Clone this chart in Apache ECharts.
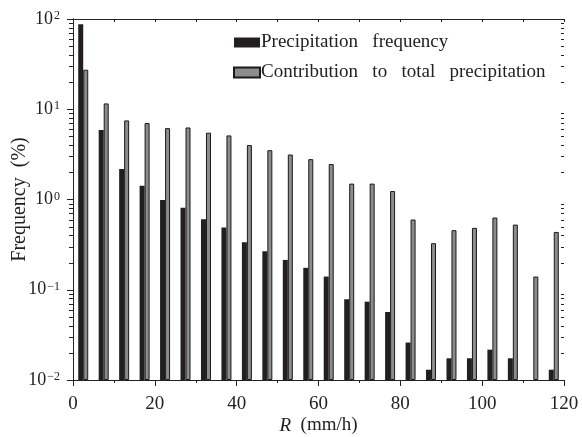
<!DOCTYPE html>
<html><head><meta charset="utf-8">
<script src="https://cdn.jsdelivr.net/npm/echarts@6/dist/echarts.min.js"></script>
<style>html,body{margin:0;padding:0;background:#fff}#c{width:582px;height:437px}</style>
</head><body><div id="c"></div>
<script>
// R bins (mm/h), bin centers
const binCenters = [2.5, 7.5, 12.5, 17.5, 22.5, 27.5, 32.5, 37.5, 42.5, 47.5, 52.5, 57.5,
                    62.5, 67.5, 72.5, 77.5, 82.5, 87.5, 92.5, 97.5, 102.5, 107.5, 112.5, 117.5];
// Precipitation frequency (%)
const freq = [87.3, 5.89, 2.18, 1.42, 0.99, 0.81, 0.605, 0.489, 0.336, 0.267, 0.214, 0.175,
              0.140, 0.0785, 0.0738, 0.0567, 0.026, 0.0130, 0.0174, 0.0174, 0.0217, 0.0174, null, 0.0130];
// Contribution to total precipitation (%)
const contrib = [27.4, 11.6, 7.52, 7.03, 6.18, 6.28, 5.50, 5.13, 4.01, 3.52, 3.15, 2.80,
                 2.47, 1.50, 1.50, 1.24, 0.600, 0.328, 0.457, 0.485, 0.631, 0.527, 0.140, 0.437];
const seriesNames = ['Precipitation\u2002 frequency', 'Contribution\u2002 to\u2002 total\u2002 precipitation'];
// minor tick positions of the log axis
const logMinorTicks = [0.02,0.03,0.04,0.05,0.06,0.07,0.08,0.09,
                       0.2,0.3,0.4,0.5,0.6,0.7,0.8,0.9,
                       2,3,4,5,6,7,8,9,
                       20,30,40,50,60,70,80,90];

const FONT = '"Liberation Serif", "Times New Roman", serif';
const INK = '#222';
const lineStyle = {color: INK, width: 1};
function supLabel(v) {
  const e = Math.round(Math.log10(v));
  return '10{s|' + (e < 0 ? '\u2212' + (-e) : e) + '}';
}

const chart = echarts.init(document.getElementById('c'), null, {renderer: 'canvas'});
chart.setOption({
  animation: false,
  grid: {left: 73, right: 18, top: 19, bottom: 57, containLabel: false, outerBoundsMode: 'none'},
  legend: {
    orient: 'vertical', left: 228, top: 28, itemWidth: 26, itemHeight: 10, itemGap: 11,
    data: seriesNames, icon: 'rect',
    textStyle: {fontFamily: FONT, fontSize: 19, color: INK, padding: [0, 0, 0, -4]}
  },
  xAxis: [
    {
      type: 'value', min: 0, max: 120, interval: 20, position: 'bottom',
      axisLine: {lineStyle: lineStyle},
      axisTick: {inside: false, length: 6, lineStyle: lineStyle},
      minorTick: {show: true, splitNumber: 2, length: 3, lineStyle: lineStyle},
      axisLabel: {fontFamily: FONT, fontSize: 19, color: INK, margin: 15},
      splitLine: {show: false},
      name: '{i|R}\u2002(mm/h)', nameLocation: 'middle', nameGap: 36, nameMoveOverlap: false,
      nameTextStyle: {fontFamily: FONT, fontSize: 19, color: INK,
        rich: {i: {fontStyle: 'italic', fontFamily: FONT, fontSize: 19, color: INK}}}
    },
    {
      type: 'value', min: 0, max: 120, interval: 10, position: 'top',
      axisLine: {lineStyle: lineStyle},
      axisTick: {inside: true, length: 3, lineStyle: lineStyle},
      axisLabel: {show: false}, splitLine: {show: false}
    }
  ],
  yAxis: [
    {
      type: 'log', logBase: 10, min: 0.01, max: 100, interval: 1, startValue: 0.01, position: 'left',
      axisLine: {show: true, lineStyle: lineStyle},
      axisTick: {inside: false, length: 6, lineStyle: lineStyle},
      axisLabel: {formatter: supLabel, fontFamily: FONT, fontSize: 18, color: INK, margin: 13,
        rich: {s: {fontFamily: FONT, fontSize: 12, color: INK, verticalAlign: 'top', padding: [0, 0, 0, 1]}}},
      splitLine: {show: false},
      name: 'Frequency\u2002(%)', nameLocation: 'middle', nameGap: 43, nameMoveOverlap: false,
      nameTextStyle: {fontFamily: FONT, fontSize: 20, color: INK}
    },
    {
      type: 'log', logBase: 10, min: 0.01, max: 100, interval: 1, position: 'right',
      axisLine: {show: true, lineStyle: lineStyle},
      axisTick: {inside: true, length: 5, lineStyle: lineStyle},
      axisLabel: {show: false}, splitLine: {show: false}
    }
  ],
  series: [
    {
      name: seriesNames[0], type: 'bar', xAxisIndex: 0, yAxisIndex: 0,
      data: binCenters.map((c, i) => [c, freq[i]]),
      barWidth: 5, barGap: '0%',
      itemStyle: {color: '#231f20'}
    },
    {
      name: seriesNames[1], type: 'bar', xAxisIndex: 0, yAxisIndex: 0,
      data: binCenters.map((c, i) => [c, contrib[i]]),
      barWidth: 5, barGap: '0%',
      itemStyle: {color: '#8c8c8c', borderColor: '#1a1a1a', borderWidth: 1}
    },
    {
      type: 'custom', coordinateSystem: 'cartesian2d', xAxisIndex: 0, yAxisIndex: 0,
      silent: true, clip: false, z: 10,
      data: logMinorTicks.map(v => [0, v]),
      encode: {x: 0, y: 1},
      renderItem: function (params, api) {
        const v = api.value(1);
        const pL = api.coord([0, v]);
        const pR = api.coord([120, v]);
        const y = Math.round(pL[1]) + 0.5;
        return {type: 'group', children: [
          {type: 'line', shape: {x1: pL[0] - 4, y1: y, x2: pL[0], y2: y}, style: {stroke: INK, lineWidth: 1}},
          {type: 'line', shape: {x1: pR[0] - 3, y1: y, x2: pR[0], y2: y}, style: {stroke: INK, lineWidth: 1}}
        ]};
      }
    }
  ]
});
</script>
</body></html>
